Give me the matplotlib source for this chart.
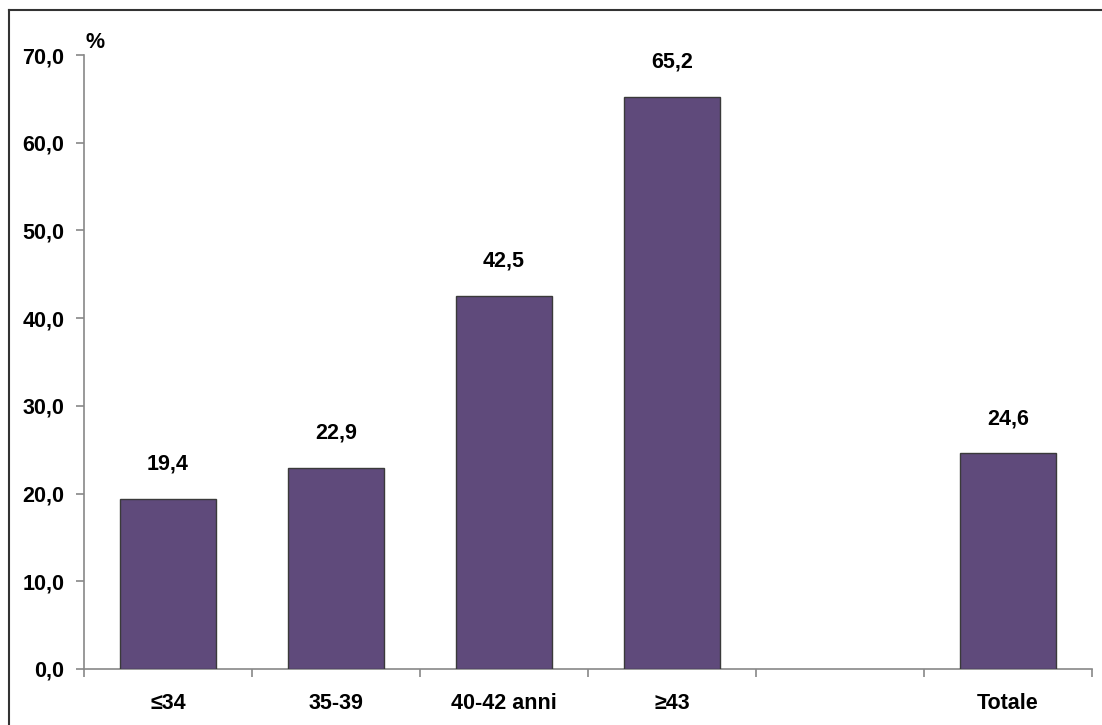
import matplotlib
matplotlib.use("Agg")
import matplotlib.pyplot as plt
from matplotlib.lines import Line2D
import numpy as np

categories = ["≤34", "35-39", "40-42 anni", "≥43", "", "Totale"]
values = [19.4, 22.9, 42.5, 65.2, None, 24.6]
yticks = [0, 10, 20, 30, 40, 50, 60, 70]

plt.rcParams['font.family'] = ['Liberation Sans', 'DejaVu Sans']
plt.rcParams['font.weight'] = 'bold'
FS = 15.5

fig = plt.figure(figsize=(11.02, 7.25), dpi=100)
ax = fig.add_axes([84/1102, 1-669/725, (1092-84)/1102, (669-55)/725])

x = np.arange(len(categories))
bar_color = '#5F4A7B'
for xi, v in zip(x, values):
    if v is None:
        continue
    ax.bar(xi, v, width=0.57, color=bar_color, edgecolor='#3a3a3a', linewidth=1.0, zorder=3)
    ax.annotate(f"{v:.1f}".replace('.', ','), (xi, v), xytext=(0, 25), textcoords='offset points',
                ha='center', va='center', fontsize=FS, fontweight='bold')

ax.set_xlim(-0.5, len(categories) - 0.5)
ax.set_ylim(0, 70)
ax.set_yticks(yticks)
ax.set_yticklabels([f"{t:.1f}".replace('.', ',') for t in yticks], fontsize=FS, fontweight='bold')
ax.set_xticks(x)
ax.set_xticklabels(categories, fontsize=FS, fontweight='bold')
ax.set_xticks(np.arange(-0.5, len(categories), 1.0), minor=True)
ax.tick_params(axis='x', which='major', length=0, pad=17)
ax.tick_params(axis='x', which='minor', length=6, color='#888888', width=1.2)
ax.tick_params(axis='y', length=6, color='#888888', width=1.2, pad=8)

for s in ['top', 'right']:
    ax.spines[s].set_visible(False)
for s in ['left', 'bottom']:
    ax.spines[s].set_color('#888888')
    ax.spines[s].set_linewidth(1.2)

fig.text(95/1102, 1-42/725, "%", fontsize=FS, fontweight='bold', ha='center', va='center')

# partial figure border (left and top edges visible)
fig.add_artist(Line2D([8.5/1102, 8.5/1102], [0, 1-9.5/725], transform=fig.transFigure,
                      color='#333333', linewidth=1.5))
fig.add_artist(Line2D([8.5/1102, 1], [1-9.5/725, 1-9.5/725], transform=fig.transFigure,
                      color='#333333', linewidth=1.5))

fig.savefig("out.png", dpi=100)
